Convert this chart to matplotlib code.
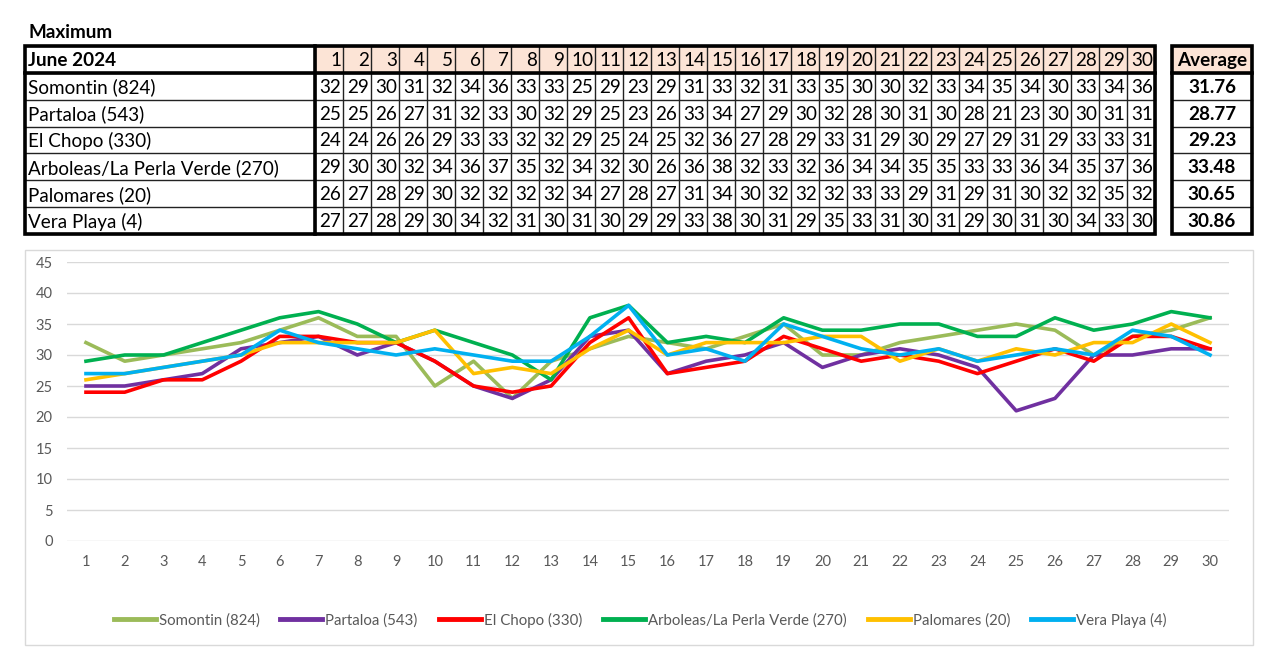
import matplotlib
matplotlib.use("Agg")
import matplotlib.pyplot as plt
from matplotlib.patches import Rectangle
import numpy as np

# ---------------- data ----------------
days = list(range(1, 31))
stations = ["Somontin (824)", "Partaloa (543)", "El Chopo (330)",
            "Arboleas/La Perla Verde (270)", "Palomares (20)", "Vera Playa (4)"]
somontin = [32, 29, 30, 31, 32, 34, 36, 33, 33, 25, 29, 23, 29, 31, 33, 32, 31, 33, 35, 30, 30, 32, 33, 34, 35, 34, 30, 33, 34, 36]
partaloa = [25, 25, 26, 27, 31, 32, 33, 30, 32, 29, 25, 23, 26, 33, 34, 27, 29, 30, 32, 28, 30, 31, 30, 28, 21, 23, 30, 30, 31, 31]
el_chopo = [24, 24, 26, 26, 29, 33, 33, 32, 32, 29, 25, 24, 25, 32, 36, 27, 28, 29, 33, 31, 29, 30, 29, 27, 29, 31, 29, 33, 33, 31]
arboleas = [29, 30, 30, 32, 34, 36, 37, 35, 32, 34, 32, 30, 26, 36, 38, 32, 33, 32, 36, 34, 34, 35, 35, 33, 33, 36, 34, 35, 37, 36]
palomares = [26, 27, 28, 29, 30, 32, 32, 32, 32, 34, 27, 28, 27, 31, 34, 30, 32, 32, 32, 33, 33, 29, 31, 29, 31, 30, 32, 32, 35, 32]
vera_playa = [27, 27, 28, 29, 30, 34, 32, 31, 30, 31, 30, 29, 29, 33, 38, 30, 31, 29, 35, 33, 31, 30, 31, 29, 30, 31, 30, 34, 33, 30]
averages = ["31.76", "28.77", "29.23", "33.48", "30.65", "30.86"]
series = [somontin, partaloa, el_chopo, arboleas, palomares, vera_playa]
colors = ["#9BBB59", "#7030A0", "#FF0000", "#00B050", "#FFC000", "#00B0F0"]

FONT = "Lato"
W, H = 1280, 655
fig = plt.figure(figsize=(W / 100, H / 100), dpi=100)

# ---------------- table (pixel coordinate overlay) ----------------
tab = fig.add_axes([0, 0, 1, 1])
tab.set_xlim(0, W)
tab.set_ylim(H, 0)
tab.axis("off")

peach = "#FCE4D6"
x0, xname, xend = 25, 315, 1155
cw = (xend - xname) / len(days)
ytop, ybot = 46, 234
nrows = len(stations) + 1
rh = (ybot - ytop) / nrows
ax0, ax1 = 1172, 1252
fs = 13.6

tab.text(28, 32, "Maximum", fontsize=fs, fontweight="bold", family=FONT,
         va="center", ha="left", color="black")

# header backgrounds
for j, d in enumerate(days):
    tab.add_patch(Rectangle((xname + j * cw, ytop), cw, rh, facecolor=peach,
                            edgecolor="none", zorder=1))
tab.add_patch(Rectangle((ax0, ytop), ax1 - ax0, rh, facecolor=peach,
                        edgecolor="none", zorder=1))

# thin grid lines
for j in range(len(days) + 1):
    xx = xname + j * cw
    tab.plot([xx, xx], [ytop, ybot], color="#222222", lw=1.0, zorder=2)
for i in range(nrows + 1):
    yy = ytop + i * rh
    tab.plot([x0, xend], [yy, yy], color="#222222", lw=1.0, zorder=2)
    tab.plot([ax0, ax1], [yy, yy], color="#222222", lw=1.0, zorder=2)

# thick borders
thick = 2.6
tab.add_patch(Rectangle((x0, ytop), xend - x0, ybot - ytop, facecolor="none",
                        edgecolor="black", lw=thick, zorder=3))
tab.plot([xname, xname], [ytop, ybot], color="black", lw=thick, zorder=3)
tab.plot([x0, xend], [ytop + rh, ytop + rh], color="black", lw=thick, zorder=3)
tab.add_patch(Rectangle((ax0, ytop), ax1 - ax0, ybot - ytop, facecolor="none",
                        edgecolor="black", lw=thick, zorder=3))
tab.plot([ax0, ax1], [ytop + rh, ytop + rh], color="black", lw=thick, zorder=3)

# texts
def yc(i):
    return ytop + (i + 0.5) * rh + 1

tab.text(28, yc(0), "June 2024", fontsize=fs, fontweight="bold", family=FONT,
         va="center", ha="left")
tab.text((ax0 + ax1) / 2, yc(0), "Average", fontsize=fs, fontweight="bold",
         family=FONT, va="center", ha="center")
for j, d in enumerate(days):
    tab.text(xname + (j + 1) * cw - 2.0, yc(0), str(d), fontsize=fs,
             family=FONT, va="center", ha="right")
for i, (name, vals, avg) in enumerate(zip(stations, series, averages)):
    tab.text(28, yc(i + 1), name, fontsize=fs, family=FONT, va="center", ha="left")
    for j, v in enumerate(vals):
        tab.text(xname + (j + 1) * cw - 2.0, yc(i + 1), str(v), fontsize=fs,
                 family=FONT, va="center", ha="right")
    tab.text((ax0 + ax1) / 2, yc(i + 1), avg, fontsize=fs, fontweight="bold",
             family=FONT, va="center", ha="center")

# chart frame
tab.add_patch(Rectangle((25, 250), 1228, 395, facecolor="none",
                        edgecolor="#D9D9D9", lw=1.0, zorder=0))

# ---------------- line chart ----------------
left_px, right_px = 66.6, 1229.4
y0_px, y45_px = 541, 262
ax = fig.add_axes([left_px / W, (H - y0_px) / H, (right_px - left_px) / W,
                   (y0_px - y45_px) / H])
ax.set_facecolor("none")
for name, vals, c in zip(stations, series, colors):
    ax.plot(days, vals, color=c, lw=2.6, label=name, solid_joinstyle="round")
ax.set_xlim(0.5, 30.5)
ax.set_ylim(0, 45)
ax.set_yticks(range(0, 46, 5))
ax.set_xticks(days)
ax.grid(axis="y", color="#D9D9D9", lw=1.0)
ax.set_axisbelow(True)
for s in ax.spines.values():
    s.set_visible(False)
ax.tick_params(length=0, labelsize=10.5, labelcolor="#595959", pad=10)
for lab in ax.get_xticklabels() + ax.get_yticklabels():
    lab.set_family(FONT)

leg = fig.legend(loc="center", bbox_to_anchor=(0.5, (H - 620) / H), ncol=6,
                 frameon=False, handlelength=2.8, handletextpad=0.2,
                 columnspacing=1.4, prop={"family": FONT, "size": 10.8})
for t in leg.get_texts():
    t.set_color("#595959")
for l in leg.get_lines():
    l.set_linewidth(3.5)

fig.savefig("out.png", dpi=100)
